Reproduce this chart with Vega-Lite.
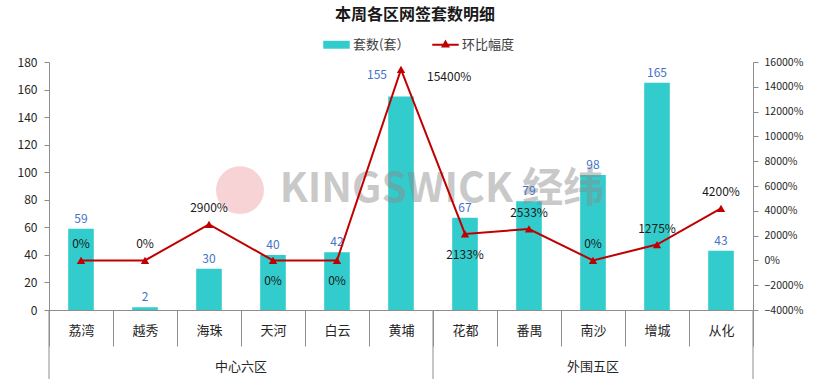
{
  "$schema": "https://vega.github.io/schema/vega-lite/v6.json",
  "width": 704,
  "height": 248,
  "autosize": {"type": "none"},
  "padding": {"left": 49, "top": 62, "right": 68, "bottom": 81},
  "background": "white",
  "title": {"text": "本周各区网签套数明细", "font": "Noto Sans CJK SC", "fontSize": 16, "fontWeight": "bold", "color": "#1a1a1a", "anchor": "middle", "dx": 14, "offset": 8},
  "config": {"view": {"stroke": null}, "font": "Noto Sans CJK SC"},
  "data": {"values": [
    {"district": "荔湾", "group": "中心六区", "count": 59, "change": 0},
    {"district": "越秀", "group": "中心六区", "count": 2, "change": 0},
    {"district": "海珠", "group": "中心六区", "count": 30, "change": 29},
    {"district": "天河", "group": "中心六区", "count": 40, "change": 0},
    {"district": "白云", "group": "中心六区", "count": 42, "change": 0},
    {"district": "黄埔", "group": "中心六区", "count": 155, "change": 154},
    {"district": "花都", "group": "外围五区", "count": 67, "change": 21.33},
    {"district": "番禺", "group": "外围五区", "count": 79, "change": 25.33},
    {"district": "南沙", "group": "外围五区", "count": 98, "change": 0},
    {"district": "增城", "group": "外围五区", "count": 165, "change": 12.75},
    {"district": "从化", "group": "外围五区", "count": 43, "change": 42}
  ]},
  "resolve": {"scale": {"y": "independent"}},
  "layer": [
    {
      "layer": [
        {
          "mark": {"type": "bar", "width": {"band": 0.4}},
          "encoding": {
            "x": {"field": "district", "type": "nominal", "sort": null,
              "scale": {"domain": ["荔湾","越秀","海珠","天河","白云","黄埔","花都","番禺","南沙","增城","从化"], "paddingInner": 0, "paddingOuter": 0},
              "axis": {"title": null, "labelAngle": 0, "tickBand": "extent", "tickSize": 36, "labelPadding": -22, "labelFontSize": 13, "labelColor": "#262626", "labelFont": "Noto Sans CJK SC", "domainColor": "#8c8c8c", "tickColor": "#8c8c8c", "grid": false}},
            "y": {"field": "count", "type": "quantitative", "scale": {"domain": [0, 180]},
              "axis": {"title": null, "values": [0,20,40,60,80,100,120,140,160,180], "labelOverlap": false, "grid": false, "tickSize": 5, "labelPadding": 7, "labelFontSize": 12, "labelColor": "#262626", "domainColor": "#8c8c8c", "tickColor": "#8c8c8c"}},
            "color": {"datum": "套数(套）", "type": "nominal",
              "scale": {"domain": ["套数(套）", "环比幅度"], "range": ["#33CCCC", "#C00000"]},
              "legend": {"orient": "none", "legendX": 274, "legendY": -31, "direction": "horizontal", "title": null, "symbolSize": 700, "symbolStrokeWidth": 0, "labelFont": "Noto Sans CJK SC", "labelFontSize": 13, "labelColor": "#404040", "labelOffset": 3, "columnPadding": 22, "padding": 0,
                "encode": {"symbols": {"update": {"shape": {"signal": "datum.value === '环比幅度' ? 'M-1,-0.07H1V0.07H-1Z M0,-0.4L0.34,0.2H-0.34Z' : 'M-1,-0.3H1V0.3H-1Z'"}, "fill": {"scale": "color", "field": "value"}, "fillOpacity": {"value": 1}, "strokeWidth": {"value": 0}}}}}}
          }
        },
        {
          "data": {"values": [{"mark": "KINGSWICK 经纬"}]},
          "mark": {"type": "text", "fontSize": 41, "fontWeight": "bold", "font": "Noto Sans CJK SC", "color": "#8a8a8a", "opacity": 0.45, "align": "center", "baseline": "middle", "dx": 41},
          "encoding": {
            "x": {"datum": "黄埔"},
            "y": {"datum": 87, "axis": {"title": null, "values": [0,20,40,60,80,100,120,140,160,180], "labelOverlap": false, "grid": false, "tickSize": 5, "labelPadding": 7, "labelFontSize": 12, "labelColor": "#262626", "domainColor": "#8c8c8c", "tickColor": "#8c8c8c"}},
            "text": {"field": "mark"}
          }
        },
        {
          "data": {"values": [{"mark": "logo"}]},
          "mark": {"type": "point", "shape": "circle", "filled": true, "size": 2300, "color": "#e8808a", "opacity": 0.35, "xOffset": -33},
          "encoding": {
            "x": {"datum": "天河"},
            "y": {"datum": 87, "axis": {"title": null, "values": [0,20,40,60,80,100,120,140,160,180], "labelOverlap": false, "grid": false, "tickSize": 5, "labelPadding": 7, "labelFontSize": 12, "labelColor": "#262626", "domainColor": "#8c8c8c", "tickColor": "#8c8c8c"}}
          }
        },
        {
          "transform": [{"filter": "datum.district !== '黄埔'"}],
          "mark": {"type": "text", "fontSize": 12, "color": "#4472C4", "baseline": "bottom", "dy": -3},
          "encoding": {
            "x": {"field": "district", "type": "nominal", "sort": null},
            "y": {"field": "count", "type": "quantitative", "axis": {"title": null, "values": [0,20,40,60,80,100,120,140,160,180], "labelOverlap": false, "grid": false, "tickSize": 5, "labelPadding": 7, "labelFontSize": 12, "labelColor": "#262626", "domainColor": "#8c8c8c", "tickColor": "#8c8c8c"}},
            "text": {"field": "count", "type": "quantitative"}
          }
        },
        {
          "transform": [{"filter": "datum.district === '黄埔'"}],
          "mark": {"type": "text", "fontSize": 12, "color": "#4472C4", "baseline": "bottom", "dy": -14, "dx": -24},
          "encoding": {
            "x": {"field": "district", "type": "nominal", "sort": null},
            "y": {"field": "count", "type": "quantitative", "axis": {"title": null, "values": [0,20,40,60,80,100,120,140,160,180], "labelOverlap": false, "grid": false, "tickSize": 5, "labelPadding": 7, "labelFontSize": 12, "labelColor": "#262626", "domainColor": "#8c8c8c", "tickColor": "#8c8c8c"}},
            "text": {"field": "count", "type": "quantitative"}
          }
        },
        {
          "transform": [{"filter": "datum.district === '荔湾' || datum.district === '花都'"}],
          "mark": {"type": "rule", "color": "#8c8c8c", "strokeWidth": 1},
          "encoding": {
            "x": {"field": "district", "type": "nominal", "sort": null, "bandPosition": 0},
            "y": {"datum": 0, "axis": {"title": null, "values": [0,20,40,60,80,100,120,140,160,180], "labelOverlap": false, "grid": false, "tickSize": 5, "labelPadding": 7, "labelFontSize": 12, "labelColor": "#262626", "domainColor": "#8c8c8c", "tickColor": "#8c8c8c"}},
            "y2": {"datum": -50}
          }
        },
        {
          "transform": [{"filter": "datum.district === '从化'"}],
          "mark": {"type": "rule", "color": "#8c8c8c", "strokeWidth": 1},
          "encoding": {
            "x": {"field": "district", "type": "nominal", "sort": null, "bandPosition": 1},
            "y": {"datum": 0, "axis": {"title": null, "values": [0,20,40,60,80,100,120,140,160,180], "labelOverlap": false, "grid": false, "tickSize": 5, "labelPadding": 7, "labelFontSize": 12, "labelColor": "#262626", "domainColor": "#8c8c8c", "tickColor": "#8c8c8c"}},
            "y2": {"datum": -50}
          }
        },
        {
          "transform": [{"filter": "datum.district === '天河'"}],
          "mark": {"type": "text", "fontSize": 13, "color": "#262626", "baseline": "middle", "dy": 57},
          "encoding": {
            "x": {"field": "district", "type": "nominal", "sort": null, "bandPosition": 0},
            "y": {"datum": 0, "axis": {"title": null, "values": [0,20,40,60,80,100,120,140,160,180], "labelOverlap": false, "grid": false, "tickSize": 5, "labelPadding": 7, "labelFontSize": 12, "labelColor": "#262626", "domainColor": "#8c8c8c", "tickColor": "#8c8c8c"}},
            "text": {"field": "group"}
          }
        },
        {
          "transform": [{"filter": "datum.district === '南沙'"}],
          "mark": {"type": "text", "fontSize": 13, "color": "#262626", "baseline": "middle", "dy": 57},
          "encoding": {
            "x": {"field": "district", "type": "nominal", "sort": null, "bandPosition": 0.5},
            "y": {"datum": 0, "axis": {"title": null, "values": [0,20,40,60,80,100,120,140,160,180], "labelOverlap": false, "grid": false, "tickSize": 5, "labelPadding": 7, "labelFontSize": 12, "labelColor": "#262626", "domainColor": "#8c8c8c", "tickColor": "#8c8c8c"}},
            "text": {"field": "group"}
          }
        }
      ]
    },
    {
      "layer": [
        {
          "mark": {"type": "line", "strokeWidth": 2},
          "encoding": {
            "x": {"field": "district", "type": "nominal", "sort": null},
            "y": {"field": "change", "type": "quantitative", "scale": {"domain": [-40, 160]},
              "axis": {"orient": "right", "title": null, "values": [-40,-20,0,20,40,60,80,100,120,140,160], "labelOverlap": false, "format": ".0%", "grid": false, "tickSize": 5, "labelPadding": 6, "labelFontSize": 10.5, "labelColor": "#262626", "domainColor": "#8c8c8c", "tickColor": "#8c8c8c"}},
            "color": {"datum": "环比幅度", "type": "nominal",
              "scale": {"domain": ["套数(套）", "环比幅度"], "range": ["#33CCCC", "#C00000"]}}
          }
        },
        {
          "mark": {"type": "point", "shape": "triangle-up", "filled": true, "size": 70, "opacity": 1},
          "encoding": {
            "x": {"field": "district", "type": "nominal", "sort": null},
            "y": {"field": "change", "type": "quantitative", "axis": {"orient": "right", "title": null, "values": [-40,-20,0,20,40,60,80,100,120,140,160], "labelOverlap": false, "format": ".0%", "grid": false, "tickSize": 5, "labelPadding": 6, "labelFontSize": 10.5, "labelColor": "#262626", "domainColor": "#8c8c8c", "tickColor": "#8c8c8c"}},
            "color": {"datum": "环比幅度", "type": "nominal"}
          }
        },
        {
          "transform": [{"filter": "indexof(['荔湾','越秀','海珠','番禺','南沙','增城','从化'], datum.district) >= 0"}],
          "mark": {"type": "text", "fontSize": 12, "color": "#1a1a1a", "baseline": "middle", "dy": -16},
          "encoding": {
            "x": {"field": "district", "type": "nominal", "sort": null},
            "y": {"field": "change", "type": "quantitative", "axis": {"orient": "right", "title": null, "values": [-40,-20,0,20,40,60,80,100,120,140,160], "labelOverlap": false, "format": ".0%", "grid": false, "tickSize": 5, "labelPadding": 6, "labelFontSize": 10.5, "labelColor": "#262626", "domainColor": "#8c8c8c", "tickColor": "#8c8c8c"}},
            "text": {"field": "change", "type": "quantitative", "format": ".0%"}
          }
        },
        {
          "transform": [{"filter": "indexof(['天河','白云','花都'], datum.district) >= 0"}],
          "mark": {"type": "text", "fontSize": 12, "color": "#1a1a1a", "baseline": "middle", "dy": 21},
          "encoding": {
            "x": {"field": "district", "type": "nominal", "sort": null},
            "y": {"field": "change", "type": "quantitative", "axis": {"orient": "right", "title": null, "values": [-40,-20,0,20,40,60,80,100,120,140,160], "labelOverlap": false, "format": ".0%", "grid": false, "tickSize": 5, "labelPadding": 6, "labelFontSize": 10.5, "labelColor": "#262626", "domainColor": "#8c8c8c", "tickColor": "#8c8c8c"}},
            "text": {"field": "change", "type": "quantitative", "format": ".0%"}
          }
        },
        {
          "transform": [{"filter": "datum.district === '黄埔'"}],
          "mark": {"type": "text", "fontSize": 12, "color": "#1a1a1a", "baseline": "middle", "align": "left", "dx": 26, "dy": 8},
          "encoding": {
            "x": {"field": "district", "type": "nominal", "sort": null},
            "y": {"field": "change", "type": "quantitative", "axis": {"orient": "right", "title": null, "values": [-40,-20,0,20,40,60,80,100,120,140,160], "labelOverlap": false, "format": ".0%", "grid": false, "tickSize": 5, "labelPadding": 6, "labelFontSize": 10.5, "labelColor": "#262626", "domainColor": "#8c8c8c", "tickColor": "#8c8c8c"}},
            "text": {"field": "change", "type": "quantitative", "format": ".0%"}
          }
        }
      ]
    }
  ]
}
